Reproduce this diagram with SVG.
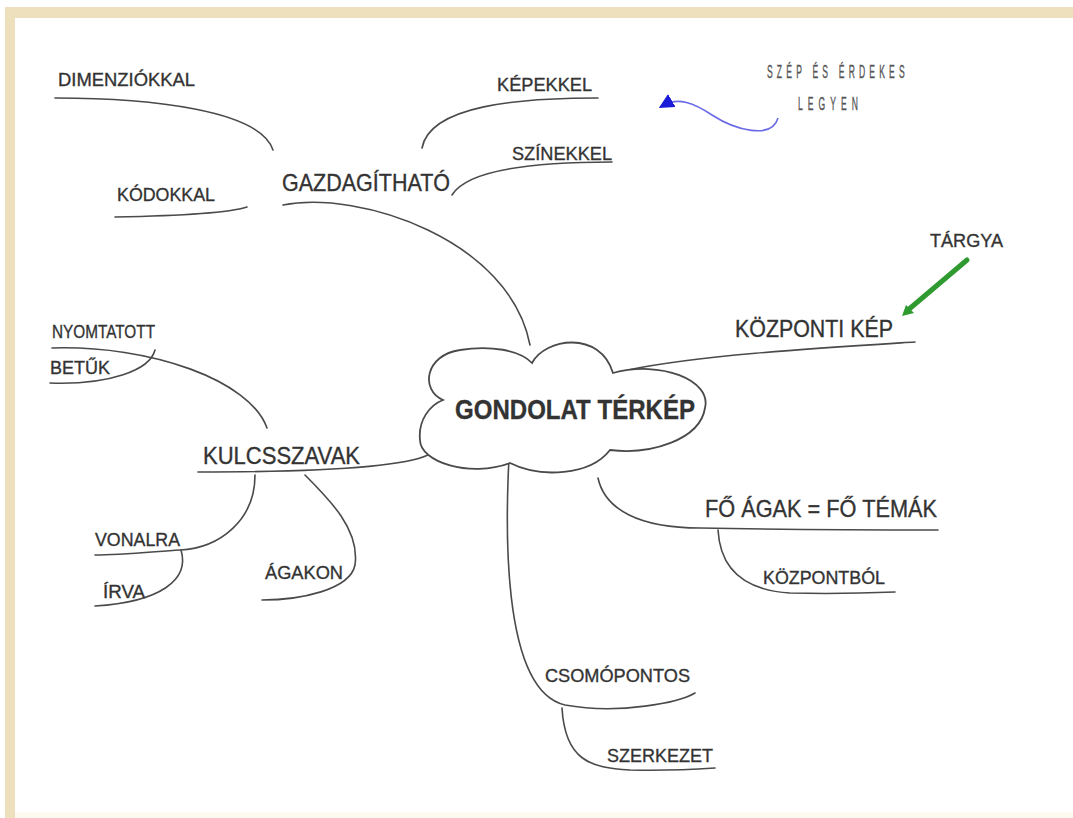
<svg xmlns="http://www.w3.org/2000/svg" width="1073" height="818" viewBox="0 0 1073 818">
<style>
.t{font-family:"Liberation Sans",Arial,sans-serif;fill:#333;stroke:#333;stroke-width:0.35}
.s{font-size:19px}
.m{font-size:24px}
.c{fill:none;stroke:#4a4a4a;stroke-width:1.6;stroke-linecap:round}
.n{font-family:"Liberation Sans",Arial,sans-serif;fill:#555;stroke:#555;stroke-width:0.4;font-size:19px}
</style>
<defs>
<marker id="ab" viewBox="0 0 10 10" refX="6" refY="5" markerWidth="15" markerHeight="15" markerUnits="userSpaceOnUse" orient="auto"><path d="M0,0 L10,5 L0,10 Z" fill="#1a1ad8"/></marker>
</defs>
<rect x="0" y="0" width="1073" height="818" fill="#ffffff"/>
<rect x="5" y="7" width="1068" height="11" fill="#eedfbd"/>
<rect x="5" y="7" width="10" height="811" fill="#eedfbd"/>
<rect x="15" y="812" width="1058" height="6" fill="#fdf9ef"/>

<g id="connectors">
<path class="c" d="M55,98 C150,98 260,110 273,150"/>
<path class="c" d="M115,217 C170,216 225,214 247,207"/>
<path class="c" d="M283,205 C360,190 510,240 530,345"/>
<path class="c" d="M422,148 C430,105 520,98 598,98"/>
<path class="c" d="M452,195 C470,165 560,162 612,162"/>
<path class="c" d="M628,370 C700,355 820,348 915,342"/>
<path class="c" d="M52,348 C150,345 250,380 267,428"/>
<path class="c" d="M50,383 C110,385 150,370 155,350"/>
<path class="c" d="M198,472 C300,472 400,468 428,455"/>
<path class="c" d="M255,475 C255,520 220,548 180,550 C150,552 120,555 95,555"/>
<path class="c" d="M181,550 C190,580 160,602 95,606"/>
<path class="c" d="M305,475 C330,500 360,530 355,565 C350,590 300,600 262,600"/>
<path class="c" d="M598,478 C605,510 640,528 700,528 C800,530 880,530 938,530"/>
<path class="c" d="M718,530 C720,565 740,590 790,593 C830,594 870,593 895,592"/>
<path class="c" d="M510,440 C505,520 500,690 565,705 C620,715 680,702 695,693"/>
<path class="c" d="M562,708 C565,760 590,768 630,770 C670,771 700,769 715,768"/>
<path d="M778,118 C772,140 735,130 712,115 C694,103 678,97 664,105" fill="none" stroke="#6a6ae8" stroke-width="1.6" marker-end="url(#ab)"/>
<path d="M967,260 L908,310" fill="none" stroke="#2f9a2f" stroke-width="5" stroke-linecap="round"/>
<path d="M902,316 L906,305 L914,313 Z" fill="#2f9a2f"/>
</g>

<g id="center">
<path d="M443,400 C420,390 425,355 460,350 C490,345 520,350 532,363 C545,338 600,330 613,373 C660,360 712,380 705,408 C700,440 650,455 610,450 C590,476 540,478 510,463 C470,478 420,462 420,440 C418,420 430,405 443,400 Z" fill="#fff" stroke="#4a4a4a" stroke-width="1.8"/>
<text class="t" x="455" y="419" font-size="28" font-weight="bold" textLength="240" lengthAdjust="spacingAndGlyphs">GONDOLAT TÉRKÉP</text>
</g>

<g id="n-gazdagithato"><text class="t m" x="282" y="191" textLength="168" lengthAdjust="spacingAndGlyphs">GAZDAGÍTHATÓ</text></g>
<g id="n-dimenziokkal"><text class="t s" x="58" y="86" textLength="137" lengthAdjust="spacingAndGlyphs">DIMENZIÓKKAL</text></g>
<g id="n-kodokkal"><text class="t s" x="117" y="201" textLength="98" lengthAdjust="spacingAndGlyphs">KÓDOKKAL</text></g>
<g id="n-kepekkel"><text class="t s" x="497" y="91" textLength="95" lengthAdjust="spacingAndGlyphs">KÉPEKKEL</text></g>
<g id="n-szinekkel"><text class="t s" x="512" y="160" textLength="100" lengthAdjust="spacingAndGlyphs">SZÍNEKKEL</text></g>
<g id="n-szep"><text class="n" transform="translate(767,78) scale(0.45,1)" x="0" y="0" textLength="306" lengthAdjust="spacing">SZÉP ÉS ÉRDEKES</text><text class="n" transform="translate(798,110) scale(0.45,1)" x="0" y="0" textLength="133" lengthAdjust="spacing">LEGYEN</text></g>
<g id="n-targya"><text class="t s" x="930" y="247" textLength="73" lengthAdjust="spacingAndGlyphs">TÁRGYA</text></g>
<g id="n-kozponti"><text class="t m" x="735" y="337" textLength="158" lengthAdjust="spacingAndGlyphs">KÖZPONTI KÉP</text></g>
<g id="n-nyomtatott"><text class="t s" x="52" y="338" textLength="103" lengthAdjust="spacingAndGlyphs">NYOMTATOTT</text><text class="t s" x="50" y="374" textLength="60" lengthAdjust="spacingAndGlyphs">BETŰK</text></g>
<g id="n-kulcsszavak"><text class="t m" x="203" y="464" textLength="157" lengthAdjust="spacingAndGlyphs">KULCSSZAVAK</text></g>
<g id="n-vonalra"><text class="t s" x="95" y="546" textLength="85" lengthAdjust="spacingAndGlyphs">VONALRA</text></g>
<g id="n-irva"><text class="t s" x="103" y="598" textLength="42" lengthAdjust="spacingAndGlyphs">ÍRVA</text></g>
<g id="n-agakon"><text class="t s" x="265" y="579" textLength="78" lengthAdjust="spacingAndGlyphs">ÁGAKON</text></g>
<g id="n-foagak"><text class="t m" x="705" y="517" textLength="232" lengthAdjust="spacingAndGlyphs">FŐ ÁGAK = FŐ TÉMÁK</text></g>
<g id="n-kozpontbol"><text class="t s" x="763" y="584" textLength="122" lengthAdjust="spacingAndGlyphs">KÖZPONTBÓL</text></g>
<g id="n-csomopontos"><text class="t s" x="545" y="682" textLength="145" lengthAdjust="spacingAndGlyphs">CSOMÓPONTOS</text></g>
<g id="n-szerkezet"><text class="t s" x="607" y="762" textLength="106" lengthAdjust="spacingAndGlyphs">SZERKEZET</text></g>
</svg>
